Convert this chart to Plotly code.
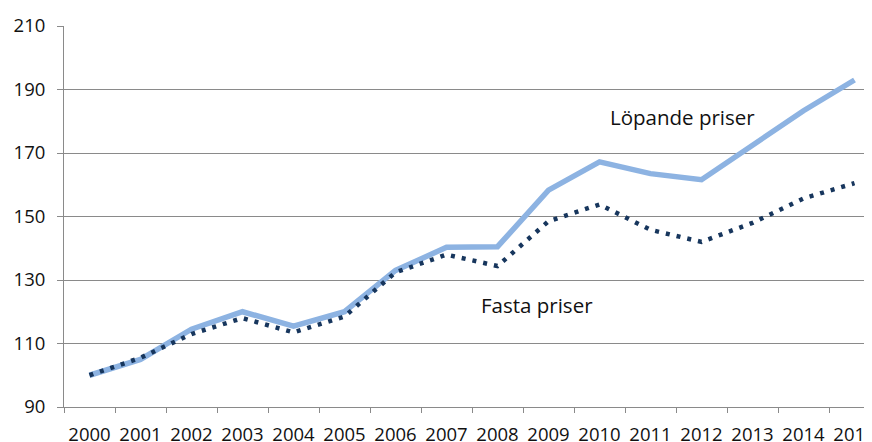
import plotly.graph_objects as go

years = [str(y) for y in range(2000, 2016)]
lopande = [100, 105, 114.5, 120, 115.5, 120, 133, 140.3, 140.5, 158.3, 167.2, 163.5, 161.6, 172.5, 183.3, 193]
fasta = [100, 105.5, 113, 118, 113.5, 118.5, 132.4, 138, 134.4, 148.5, 153.8, 145.8, 142, 148, 155.7, 160.5]

GRID = "#8a8a8a"
FONT = "Open Sans"

fig = go.Figure()
fig.add_trace(go.Scatter(
    x=years, y=lopande, mode="lines", name="Löpande priser",
    line=dict(color="#8db3e2", width=5.5),
))
fig.add_trace(go.Scatter(
    x=years, y=fasta, mode="lines", name="Fasta priser",
    line=dict(color="#17365d", width=4.5, dash="4px,7px"),
))

# sidan har 8px marginal i body, därför är marginalerna förskjutna
fig.update_layout(
    width=872, height=442,
    margin=dict(l=56, r=0, t=18, b=43),
    paper_bgcolor="white", plot_bgcolor="white",
    showlegend=False,
    font=dict(family=FONT, size=18.5, color="#111111"),
    annotations=[
        dict(xref="paper", yref="y", x=(682 - 64) / 816, y=181.3, text="Löpande priser",
             showarrow=False, font=dict(size=20.5, color="#111111"), xanchor="center"),
        dict(xref="paper", yref="y", x=(537 - 64) / 816, y=122, text="Fasta priser",
             showarrow=False, font=dict(size=20.5, color="#111111"), xanchor="center"),
    ],
)
fig.update_xaxes(
    type="category", range=[-0.5, 15.5], automargin=False, tickangle=0,
    showgrid=False, showline=True, linecolor=GRID, linewidth=1,
    ticks="outside", tickson="boundaries", ticklen=5, tickcolor=GRID,
    ticklabelstandoff=11, tickfont=dict(size=18.5),
)
fig.update_yaxes(
    range=[90, 210], tickvals=list(range(90, 211, 20)), automargin=False,
    showgrid=True, gridcolor=GRID, gridwidth=1,
    showline=True, linecolor=GRID, linewidth=1, zeroline=False,
    ticks="outside", ticklen=6, tickcolor=GRID,
    ticklabelstandoff=8, tickfont=dict(size=18.5),
)

fig.write_html("out.html")
